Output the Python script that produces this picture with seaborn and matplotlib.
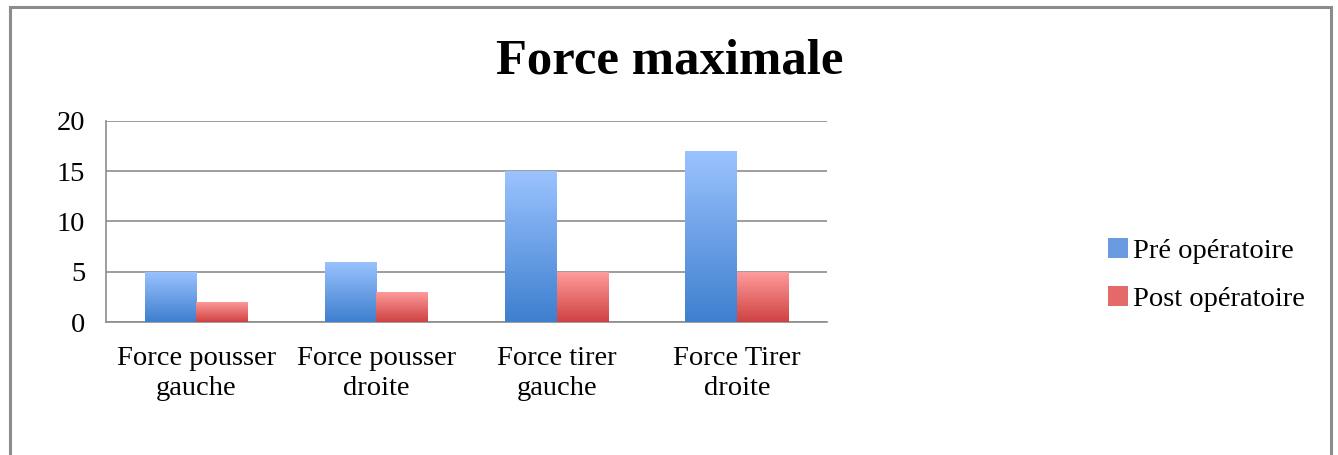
import numpy as np
import pandas as pd
import matplotlib
matplotlib.use("Agg")
import matplotlib.pyplot as plt
import seaborn as sns
from matplotlib.patches import Rectangle, Patch
from matplotlib.colors import LinearSegmentedColormap

categories = ["Force pousser\ngauche", "Force pousser\ndroite", "Force tirer\ngauche", "Force Tirer\ndroite"]
series_names = ["Pré opératoire", "Post opératoire"]
pre_values = [5, 6, 15, 17]
post_values = [2, 3, 5, 5]
yticks = [0, 5, 10, 15, 20]

sns.set_theme(style="white")
plt.rcParams['font.family'] = ['Liberation Serif', 'DejaVu Serif']
plt.rcParams['text.color'] = 'black'

df = pd.DataFrame({
    "cat": categories * 2,
    "val": pre_values + post_values,
    "series": [series_names[0]] * 4 + [series_names[1]] * 4,
})

W, H = 1338, 455
fig = plt.figure(figsize=(W / 100, H / 100), dpi=100)
fig.patch.set_facecolor("white")

# outer chart frame
fig.patches.append(Rectangle((9.5 / W, -0.05), (1331 - 9.5) / W, 1.05 - 7.5 / H,
                             transform=fig.transFigure, fill=False,
                             edgecolor="#8c8c8c", linewidth=2.2, zorder=0))

left, right, top, bottom = 106, 827, 121, 322
ax = fig.add_axes([left / W, 1 - bottom / H, (right - left) / W, (bottom - top) / H])

blue_mid = "#6a9be0"
red_mid = "#e46a6a"
sns.barplot(data=df, x="cat", y="val", hue="series", palette=[blue_mid, red_mid],
            width=2 / 3.5, ax=ax, legend=False, saturation=1, zorder=3)

cmaps = {
    0: LinearSegmentedColormap.from_list("b", ["#3e7fcf", "#9bc3ff"]),
    1: LinearSegmentedColormap.from_list("r", ["#cf4242", "#ff9d9d"]),
}
grad = np.linspace(0, 1, 256).reshape(-1, 1)
for i, p in enumerate(ax.patches):
    s = i // 4
    x0, y0 = p.get_x(), p.get_y()
    w, h = p.get_width(), p.get_height()
    if h <= 0:
        continue
    im = ax.imshow(grad, cmap=cmaps[s], aspect="auto", origin="lower",
                   extent=[x0, x0 + w, 0, h], zorder=4, interpolation="bilinear")
    im.set_clip_path(p)
    p.set_edgecolor("none")

ax.set_xlim(-0.5, 3.5)
ax.set_ylim(0, 20)
ax.set_yticks(yticks)
ax.set_yticklabels([str(v) for v in yticks])
ax.yaxis.grid(True, color="#8c8c8c", linewidth=1.2, zorder=0)
ax.set_axisbelow(True)
ax.set_xlabel("")
ax.set_ylabel("")

ax.set_xticks(range(4))
ax.set_xticklabels(categories, fontsize=20.5, linespacing=1.3)
ax.set_xticks([-0.5, 0.5, 1.5, 2.5, 3.5], minor=True)
ax.tick_params(axis="x", which="major", length=0, pad=17, colors="black")
ax.tick_params(axis="x", which="minor", length=7, width=1.2, color="#8c8c8c", direction="out")
ax.tick_params(axis="y", length=8, width=1.2, color="#8c8c8c", direction="out",
               labelsize=20.5, pad=7, labelcolor="black")

for sp in ["top", "right"]:
    ax.spines[sp].set_visible(False)
for sp in ["left", "bottom"]:
    ax.spines[sp].set_visible(True)
    ax.spines[sp].set_color("#8c8c8c")
    ax.spines[sp].set_linewidth(1.2)

fig.text(670 / W, 1 - 62 / H, "Force maximale", ha="center", va="center",
         fontsize=36.5, fontweight="bold", color="black")

handles = [Patch(facecolor=blue_mid, edgecolor="none"),
           Patch(facecolor=red_mid, edgecolor="none")]
leg = fig.legend(handles, series_names, loc="center left",
                 bbox_to_anchor=(1082 / W, 1 - 275 / H), frameon=False,
                 fontsize=20.5, handlelength=0.7, handleheight=0.7,
                 handletextpad=0.2, labelspacing=0.75)
for t in leg.get_texts():
    t.set_color("black")

fig.savefig("out.png", dpi=100, facecolor="white")
